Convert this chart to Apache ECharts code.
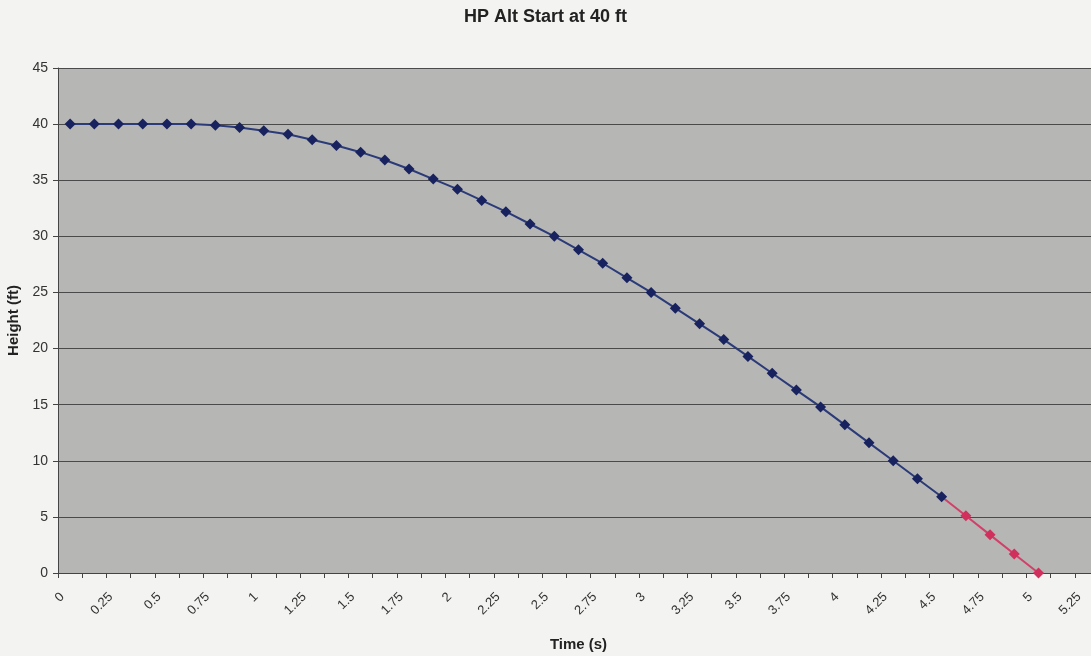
<!DOCTYPE html>
<html>
<head>
<meta charset="utf-8">
<script src="https://cdn.jsdelivr.net/npm/echarts@6/dist/echarts.min.js"></script>
<style>
  html, body { margin: 0; padding: 0; background: #f3f3f1; }
  #chart { width: 1091px; height: 656px; }
</style>
</head>
<body>
<div id="chart"></div>
<script>
// time categories (s), one per point, 0.125 s apart
var times = ['0', '0.125', '0.25', '0.375', '0.5', '0.625', '0.75', '0.875', '1', '1.125',
    '1.25', '1.375', '1.5', '1.625', '1.75', '1.875', '2', '2.125', '2.25', '2.375',
    '2.5', '2.625', '2.75', '2.875', '3', '3.125', '3.25', '3.375', '3.5', '3.625',
    '3.75', '3.875', '4', '4.125', '4.25', '4.375', '4.5', '4.625', '4.75', '4.875',
    '5', '5.125', '5.25'];

// blue part of the curve, from t = 0
var heightBlue = [40, 40, 40, 40, 40, 40, 39.9, 39.7, 39.4, 39.1,
    38.6, 38.1, 37.5, 36.8, 36.0, 35.1, 34.2, 33.2, 32.2, 31.1,
    30.0, 28.8, 27.6, 26.3, 25.0, 23.6, 22.2, 20.8, 19.3, 17.8,
    16.3, 14.8, 13.2, 11.6, 10.0, 8.4, 6.8];

// red part, starts on the last blue point (t = 4.5)
var redStart = 36;
var heightRed = [6.8, 5.1, 3.4, 1.7, 0];

var blueData = heightBlue.slice();
var redData = [];
for (var i = 0; i < redStart; i++) redData.push(null);
for (var j = 0; j < heightRed.length; j++) {
    if (j == 0) redData.push({ value: heightRed[j], symbol: 'none' });
    else redData.push(heightRed[j]);
}

var font = 'Liberation Sans, Arial, sans-serif';
var chart = echarts.init(document.getElementById('chart'));

var option = {
    backgroundColor: '#f3f3f1',
    animation: false,
    title: {
        text: 'HP Alt Start at 40 ft',
        left: 'center',
        top: 3,
        textStyle: { fontFamily: font, fontSize: 18, fontWeight: 'bold', color: '#222' }
    },
    grid: {
        show: true,
        left: 58,
        top: 68,
        right: -8,
        bottom: 83,
        outerBoundsMode: 'none',
        backgroundColor: '#b6b6b4',
        borderWidth: 0
    },
    xAxis: {
        type: 'category',
        data: times,
        boundaryGap: true,
        name: 'Time (s)',
        nameLocation: 'middle',
        nameGap: 64,
        nameTextStyle: { fontFamily: font, fontSize: 15, fontWeight: 'bold', color: '#222' },
        axisLine: { lineStyle: { color: '#444', width: 1 } },
        axisTick: { show: true, interval: 0, length: 5, lineStyle: { color: '#444' } },
        axisLabel: {
            interval: 1,
            rotate: 45,
            margin: 14,
            padding: [0, 11, 0, 0],
            fontFamily: font,
            fontSize: 13,
            color: '#333'
        },
        splitLine: { show: false }
    },
    yAxis: {
        type: 'value',
        min: 0,
        max: 45,
        interval: 5,
        name: 'Height (ft)',
        nameLocation: 'middle',
        nameGap: 36,
        nameTextStyle: { fontFamily: font, fontSize: 15, fontWeight: 'bold', color: '#222' },
        axisLine: { show: true, lineStyle: { color: '#444', width: 1 } },
        axisTick: { show: true, length: 5, lineStyle: { color: '#444' } },
        axisLabel: { margin: 10, fontFamily: font, fontSize: 14, color: '#333' },
        splitLine: { show: true, lineStyle: { color: '#4a4a4a', width: 1.2 } }
    },
    series: [
        {
            type: 'line',
            name: 'red',
            data: redData,
            symbol: 'diamond',
            symbolSize: 11,
            lineStyle: { color: '#d2406a', width: 2 },
            itemStyle: { color: '#d0305c' }
        },
        {
            type: 'line',
            name: 'blue',
            data: blueData,
            symbol: 'diamond',
            symbolSize: 11,
            lineStyle: { color: '#2b3a78', width: 2 },
            itemStyle: { color: '#18225e' }
        }
    ]
};

chart.setOption(option);
</script>
</body>
</html>
